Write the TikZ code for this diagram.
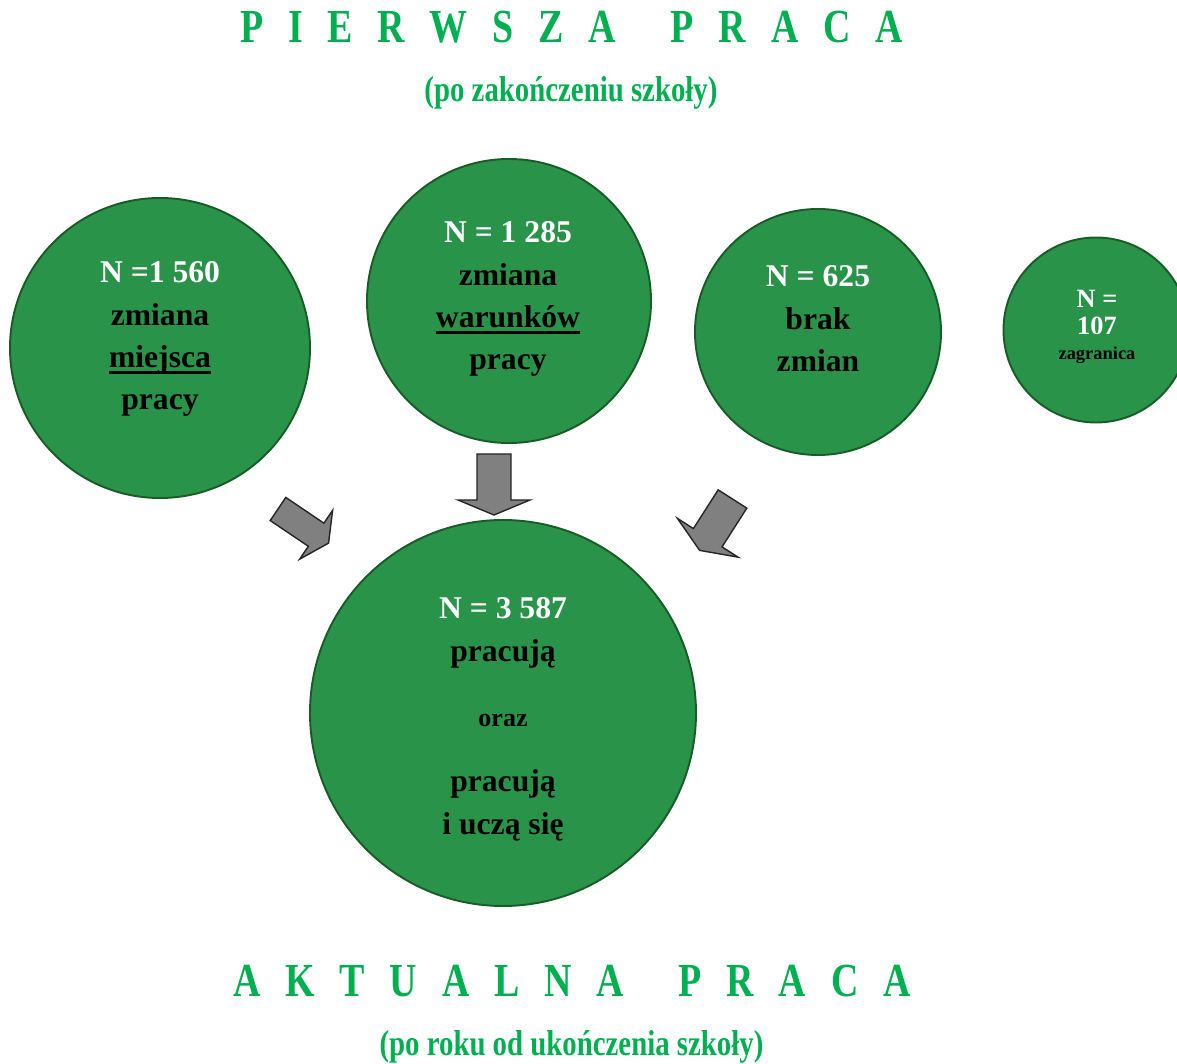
\documentclass[tikz,border=0pt]{standalone}
\usepackage{fontspec}
\setmainfont{Liberation Serif}
\newfontfamily\titlefont[FakeStretch=0.8]{Liberation Serif}
\usepackage{xcolor}
\definecolor{titlegreen}{HTML}{00B050}
\definecolor{bubblegreen}{HTML}{2A934A}
\definecolor{bubbleedge}{HTML}{185C28}
\definecolor{arrowgrey}{HTML}{808080}
% letter and word gaps of the spaced titles
\newcommand{\lsp}{\hspace{0.495cm}}
\newcommand{\wsp}{\hspace{1.1cm}}
% thick underline
\newsavebox{\ulbox}
\newcommand{\ulword}[1]{\sbox{\ulbox}{#1}\rlap{\rule[-3.6pt]{\wd\ulbox}{1.6pt}}\usebox{\ulbox}}
\newcommand{\drawblockarrow}[4][]{% [options]{x}{y}{angle}
  \begin{scope}[shift={(#2,#3)},rotate=#4,#1]
    \filldraw[fill=arrowgrey,draw=black!85,line width=0.8pt,line join=miter]
      (0,-0.34) -- (0.92,-0.34) -- (0.92,-0.72) -- (1.22,0)
      -- (0.92,0.72) -- (0.92,0.34) -- (0,0.34) -- cycle;
  \end{scope}
}

\begin{document}
\begin{tikzpicture}[
  bubble/.style={circle,fill=bubblegreen,draw=bubbleedge,line width=1.1pt,inner sep=0pt},
  bubtext/.style={align=center,anchor=north,inner sep=0pt,font=\bfseries\fontsize{18}{24.1}\selectfont},
  title/.style={anchor=base,inner sep=0pt,text=titlegreen,font=\titlefont\bfseries\fontsize{27}{32}\selectfont},
  subtitle/.style={anchor=base,inner sep=0pt,text=titlegreen,font=\titlefont\bfseries\fontsize{20.5}{24}\selectfont}]
  \useasboundingbox (0,0) rectangle (23.54,21.26);
  % Titles
  \node[title] (pierwsza) at (11.43,20.4)
    {P\lsp I\lsp E\lsp R\lsp W\lsp S\lsp Z\lsp A\wsp P\lsp R\lsp A\lsp C\lsp A};
  \node[subtitle] (pierwszasub) at (11.42,19.22) {(po zakończeniu szkoły)};
  \node[title] (aktualna) at (11.44,1.32)
    {A\lsp K\lsp T\lsp U\lsp A\lsp L\lsp N\lsp A\wsp P\lsp R\lsp A\lsp C\lsp A};
  \node[subtitle] (aktualnasub) at (11.43,0.15) {(po roku od ukończenia szkoły)};
  % First job bubbles
  \node[bubble,minimum size=6cm] (miejsce) at (3.2,14.3) {};
  \node[bubtext] (miejscetxt) at (3.2,16.03)
    {{\color{white}N =1 560}\\zmiana\\\ulword{miejsca}\\pracy};
  \node[bubble,minimum size=5.68cm] (warunki) at (10.18,15.24) {};
  \node[bubtext] (warunkitxt) at (10.16,16.83)
    {{\color{white}N = 1 285}\\zmiana\\\ulword{warunków}\\pracy};
  \node[bubble,minimum size=4.92cm] (brak) at (16.36,14.62) {};
  \node[bubtext] (braktxt) at (16.36,15.95)
    {{\color{white}N = 625}\\brak\\zmian};
  \node[bubble,minimum size=3.7cm] (zagr) at (21.92,14.66) {};
  \node[bubtext,font=\bfseries\fontsize{15}{15.3}\selectfont] (zagrtxt) at (21.94,15.46)
    {{\color{white}N =}\\{\color{white}107}\\[-0.04cm]{\fontsize{10.5}{12}\selectfont zagranica}};
  % Current job bubble
  \node[bubble,minimum size=7.72cm] (obecna) at (10.06,7.0) {};
  \node[bubtext] (obecnatxt) at (10.06,9.31)
    {{\color{white}N = 3 587}\\pracują\\[0.45cm]{\fontsize{14.8}{16}\selectfont oraz}\\[0.47cm]pracują\\i uczą się};
  % Arrows
  \drawblockarrow[yscale=0.82]{5.56}{11.08}{-34}
  \drawblockarrow{9.88}{12.18}{-90}
  \drawblockarrow{14.65}{11.28}{-122.6}
\end{tikzpicture}
\end{document}
